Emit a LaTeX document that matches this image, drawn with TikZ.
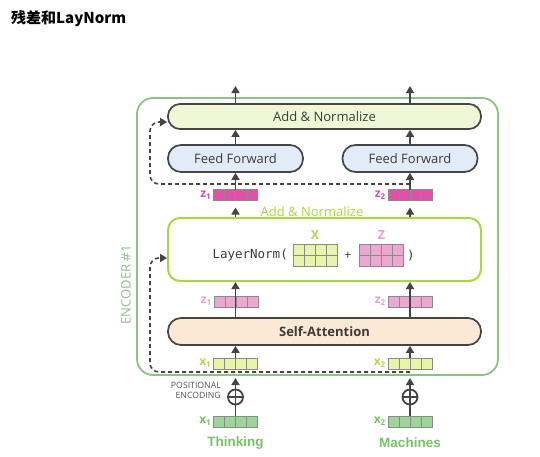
\documentclass[tikz,border=0pt]{standalone}
\usepackage{fontspec}
\setmainfont{Open Sans}
\newfontfamily\cjk{Noto Sans CJK SC}
\newfontfamily\monof{DejaVu Sans Mono}
\newfontfamily\arialf{Liberation Sans}
\usetikzlibrary{arrows.meta,calc}
\definecolor{dgray}{HTML}{454545}
\definecolor{tgray}{HTML}{3C3C3C}
\definecolor{anfill}{HTML}{EEF7D6}
\definecolor{fffill}{HTML}{E2ECF8}
\definecolor{safill}{HTML}{FBE8D5}
\definecolor{lngreen}{HTML}{A9D93E}
\definecolor{encgreen}{HTML}{8EC186}
\definecolor{zdark}{HTML}{E052A8}
\definecolor{zdarkt}{HTML}{D94FA5}
\definecolor{zlight}{HTML}{EDA8D2}
\definecolor{zlightt}{HTML}{EBA0CC}
\definecolor{xlight}{HTML}{E6F5A9}
\definecolor{xlightt}{HTML}{B9D548}
\definecolor{xgreen}{HTML}{9DD49A}
\definecolor{xgreent}{HTML}{76C466}
\definecolor{cellln}{HTML}{8A8A8A}
\definecolor{posgray}{HTML}{555555}
\newcommand\cellrow[5]{% name, position, fill, border, height
  \node[draw=#4, fill=#3, line width=.7pt, minimum width=44pt, minimum height=#5, inner sep=0pt, outer sep=0pt] (#1) at #2 {};
  \foreach \i in {1,2,3}{\draw[draw=#4, line width=.7pt] ($(#1.north west)!\i/4!(#1.north east)$) -- ($(#1.south west)!\i/4!(#1.south east)$);}
}
\begin{document}
\begin{tikzpicture}[x=1pt,y=-1pt,
  box/.style={draw=dgray, line width=1.7pt, rounded corners=12pt, minimum width=313pt, minimum height=25pt, inner sep=0pt, text=tgray, font=\fontsize{13}{15}\selectfont},
  arr/.style={draw=dgray, line width=1.6pt, -{Triangle[width=8pt,length=7pt]}},
  dsh/.style={arr, dash pattern=on 4pt off 3pt, rounded corners=9pt},
  vlab/.style={anchor=east, inner sep=0pt, font=\bfseries\fontsize{12}{14}\selectfont},
  word/.style={inner sep=0pt, text=xgreent, font=\arialf\bfseries\fontsize{13.5}{16}\selectfont}]
\useasboundingbox (0,0) rectangle (540,456);
\fill[white] (0,0) rectangle (540,456);

\node[anchor=west, inner sep=0pt, font=\cjk\bfseries\fontsize{15}{18}\selectfont] (title) at (11,19) {残差和LayNorm};

% encoder frame
\node[draw=encgreen, line width=1.8pt, rounded corners=16pt, minimum width=361pt, minimum height=277pt, inner sep=0pt] (enc) at (317.5,236.5) {};
\node[rotate=90, text=encgreen, inner sep=0pt, font=\fontsize{13}{15}\selectfont] (enclab) at (126,285) {ENCODER \#1};

% boxes
\node[box, fill=anfill] (an) at (324.5,116.5) {Add \& Normalize};
\node[box, fill=fffill, minimum width=135pt, minimum height=27pt, rounded corners=13pt] (ff1) at (235.5,158.5) {Feed Forward};
\node[box, fill=fffill, minimum width=135pt, minimum height=27pt, rounded corners=13pt] (ff2) at (410,158.5) {Feed Forward};
\node[box, draw=lngreen, fill=white, line width=2pt, minimum height=63pt, rounded corners=12pt] (ln) at (324.5,249.5) {};
\node[box, fill=safill, minimum height=27pt, rounded corners=13pt] (sa) at (324.5,331.5) {\bfseries Self-Attention};

\node[inner sep=0pt, text=lngreen, font=\fontsize{13}{15}\selectfont] (anlab) at (312,212) {Add \& Normalize};

% LayerNorm content
\node[anchor=east, inner sep=0pt, text=tgray, font=\monof\fontsize{12.5}{15}\selectfont] (lnt) at (288,255.5) {LayerNorm(};
\cellrow{Xm}{(315,255)}{xlight}{cellln}{22pt}
\draw[cellln, line width=.7pt] (Xm.west) -- (Xm.east);
\cellrow{Zm}{(381.5,255)}{zlight}{cellln}{22pt}
\draw[cellln, line width=.7pt] (Zm.west) -- (Zm.east);
\node[inner sep=0pt, text=tgray, font=\fontsize{12.5}{15}\selectfont] (plus) at (348,256) {+};
\node[inner sep=0pt, text=tgray, font=\monof\fontsize{12.5}{15}\selectfont] (rpar) at (411,255.5) {)};
\node[inner sep=0pt, text=xlightt, font=\bfseries\fontsize{12.5}{15}\selectfont] (Xl) at (315,235.5) {X};
\node[inner sep=0pt, text=zlightt, font=\bfseries\fontsize{12.5}{15}\selectfont] (Zl) at (381.5,235.5) {Z};

% vectors
\cellrow{zd1}{(235.5,195)}{zdark}{cellln}{11pt}
\cellrow{zd2}{(410,195)}{zdark}{cellln}{11pt}
\cellrow{zl1}{(236,301.5)}{zlight}{cellln}{11pt}
\cellrow{zl2}{(410,301.5)}{zlight}{cellln}{11pt}
\cellrow{xv1}{(235.5,363.5)}{xlight}{cellln}{11pt}
\cellrow{xv2}{(410,363.5)}{xlight}{cellln}{11pt}
\cellrow{gv1}{(235.5,421.5)}{xgreen}{cellln}{11pt}
\cellrow{gv2}{(410,421.5)}{xgreen}{cellln}{11pt}

\node[vlab, text=zdarkt] (lzd1) at ([xshift=-2pt]zd1.west) {z\textsubscript{1}};
\node[vlab, text=zdarkt] (lzd2) at ([xshift=-2pt]zd2.west) {z\textsubscript{2}};
\node[vlab, text=zlightt] (lzl1) at ([xshift=-2pt]zl1.west) {z\textsubscript{1}};
\node[vlab, text=zlightt] (lzl2) at ([xshift=-2pt]zl2.west) {z\textsubscript{2}};
\node[vlab, text=xlightt] (lxv1) at ([xshift=-2pt]xv1.west) {x\textsubscript{1}};
\node[vlab, text=xlightt] (lxv2) at ([xshift=-2pt]xv2.west) {x\textsubscript{2}};
\node[vlab, text=xgreent] (lgv1) at ([xshift=-2pt]gv1.west) {x\textsubscript{1}};
\node[vlab, text=xgreent] (lgv2) at ([xshift=-2pt]gv2.west) {x\textsubscript{2}};

% positional encoding
\node[circle, draw=dgray, line width=1.8pt, minimum size=15pt, inner sep=0pt] (op1) at (235.5,397) {};
\node[circle, draw=dgray, line width=1.8pt, minimum size=15pt, inner sep=0pt] (op2) at (410,397) {};
\foreach \o in {op1,op2}{\draw[dgray, line width=1.8pt] (\o.north) -- (\o.south) (\o.west) -- (\o.east);}
\node[anchor=east, align=right, inner sep=0pt, text=posgray, font=\fontsize{8.7}{10}\selectfont] (pos) at (221,390.5) {POSITIONAL\\ENCODING};

\node[word] (w1) at (235.5,443) {Thinking};
\node[word] (w2) at (410,443) {Machines};

% arrows
\coordinate (o1) at (235.5,86);
\coordinate (o2) at (410,86);
\draw[arr] (an.north -| ff1) -- (o1);
\draw[arr] (an.north -| ff2) -- (o2);
\draw[arr] (ff1.north) -- (ff1.north |- an.south);
\draw[arr] (ff2.north) -- (ff2.north |- an.south);
\draw[arr] (zd1.north) -- (ff1.south);
\draw[arr] (zd2.north) -- (ff2.south);
\draw[arr] (ln.north -| zd1) -- ([yshift=-7pt]zd1.south);
\draw[arr] (ln.north -| zd2) -- ([yshift=-7pt]zd2.south);
\draw[arr] (sa.north -| zd1) -- (ln.south -| zd1);
\draw[arr] (sa.north -| zd2) -- (ln.south -| zd2);
\draw[arr] (xv1.north) -- (sa.south -| xv1);
\draw[arr] (xv2.north) -- (sa.south -| xv2);
\draw[arr] (op1.north) -- ([yshift=-9pt]xv1.south);
\draw[arr] (op2.north) -- ([yshift=-9pt]xv2.south);
\draw[dgray, line width=1.8pt] (gv1.north) -- (op1.south);
\draw[dgray, line width=1.8pt] (gv2.north) -- (op2.south);

% residual connections
\coordinate (dA) at (410,184);
\coordinate (dB) at (150,184);
\coordinate (dC) at (150,122);
\draw[dsh] (dA) -- (dB) -- (dC) -- (dC -| an.west);
\coordinate (dD) at (410,372);
\coordinate (dE) at (150,372);
\coordinate (dF) at (150,258);
\draw[dsh] (dD) -- (dE) -- (dF) -- (dF -| ln.west);
\end{tikzpicture}
\end{document}
